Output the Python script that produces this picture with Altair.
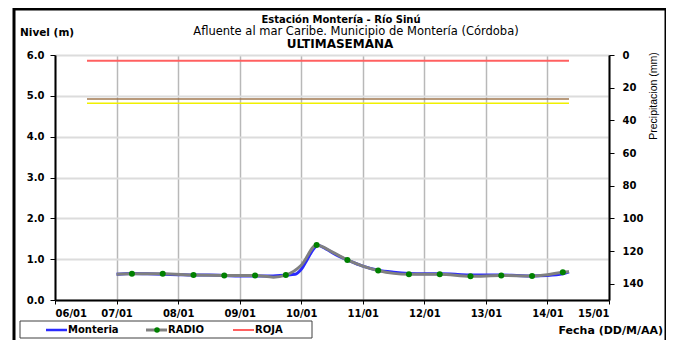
import altair as alt
import pandas as pd

# ---------------- data ----------------
x_labels = ["06/01", "07/01", "08/01", "09/01", "10/01", "11/01", "12/01", "13/01", "14/01", "15/01"]

# Monteria level (days after 06/01, metres)
mont_day = [1.0, 1.25, 1.5, 1.75, 2.0, 2.25, 2.5, 2.75, 3.0, 3.25, 3.5, 3.75, 3.9, 4.0, 4.1, 4.2, 4.27,
            4.4, 4.6, 4.75, 5.0, 5.25, 5.5, 5.75, 6.0, 6.25, 6.5, 6.75, 7.0, 7.25, 7.5, 7.75, 8.0, 8.25, 8.35]
mont_val = [0.63, 0.65, 0.64, 0.63, 0.62, 0.61, 0.61, 0.60, 0.59, 0.59, 0.59, 0.61, 0.63, 0.75, 1.0, 1.25, 1.34,
            1.25, 1.08, 0.98, 0.83, 0.73, 0.68, 0.65, 0.64, 0.64, 0.63, 0.61, 0.61, 0.61, 0.60, 0.59, 0.60, 0.64, 0.69]

# RADIO level line
radio_line_day = [1.0, 1.25, 1.75, 2.25, 2.75, 3.25, 3.55, 3.75, 4.0, 4.25, 4.5, 4.75, 5.0, 5.25,
                  5.75, 6.25, 6.75, 7.25, 7.75, 8.0, 8.25, 8.35]
radio_line_val = [0.63, 0.64, 0.64, 0.61, 0.60, 0.60, 0.56, 0.61, 0.85, 1.35, 1.18, 0.98, 0.83, 0.72,
                  0.63, 0.63, 0.58, 0.60, 0.59, 0.62, 0.68, 0.69]

# RADIO markers
radio_pt_day = [1.25, 1.75, 2.25, 2.75, 3.25, 3.75, 4.25, 4.75, 5.25, 5.75, 6.25, 6.75, 7.25, 7.75, 8.25]
radio_pt_val = [0.64, 0.64, 0.61, 0.60, 0.60, 0.61, 1.35, 0.98, 0.72, 0.63, 0.63, 0.58, 0.60, 0.59, 0.68]

# Threshold lines
thr_names = ["ROJA", "NARANJA", "AMARILLA"]
thr_vals = [5.86, 4.92, 4.82]
thr_colors = ["#ff6060", "#a07850", "#f0f000"]
thr_widths = [2.0, 1.5, 1.5]
thr_start = 0.52
thr_end = 8.35

precip_ticks = [0, 20, 40, 60, 80, 100, 120, 140]

FONT = "DejaVu Sans"
FONT2 = "Liberation Sans"
W, H = 554, 245

mont_df = pd.DataFrame({"day": mont_day, "nivel": mont_val})
rline_df = pd.DataFrame({"day": radio_line_day, "nivel": radio_line_val})
rpt_df = pd.DataFrame({"day": radio_pt_day, "nivel": radio_pt_val})
thr_df = pd.DataFrame({"name": thr_names, "nivel": thr_vals, "color": thr_colors, "w": thr_widths,
                       "x1": [thr_start] * 3, "x2": [thr_end] * 3})
one = pd.DataFrame({"a": [0]})

label_expr = "[" + ",".join("'%s'" % l for l in x_labels) + "][round(datum.value)]"

xscale = alt.Scale(domain=[0, 9], nice=False, zero=False)
yscale = alt.Scale(domain=[0, 6], nice=False)

xaxis = alt.Axis(values=list(range(10)), labelExpr=label_expr, title=None, grid=True,
                 gridColor="#b8b8b8", gridWidth=1.5, domainColor="black", domainWidth=2,
                 tickColor="black", tickSize=4, labelFont=FONT, labelFontSize=10,
                 labelFontWeight="bold", labelColor="black", labelPadding=4)
yaxis = alt.Axis(values=[0, 1, 2, 3, 4, 5, 6], format=".1f", title=None, grid=True,
                 gridColor="#dcdcdc", gridWidth=2, domainColor="black", domainWidth=2,
                 tickColor="black", tickSize=5, labelFont=FONT, labelFontSize=10,
                 labelFontWeight="bold", labelColor="black", labelPadding=6)

frame = alt.Chart(one).mark_rect(fill=None, stroke="black", strokeWidth=3).encode(
    x=alt.value(-41), x2=alt.value(611), y=alt.value(-46), y2=alt.value(320))

grid_layer = alt.Chart(rpt_df).mark_point(opacity=0).encode(
    x=alt.X("day:Q", scale=xscale, axis=xaxis),
    y=alt.Y("nivel:Q", scale=yscale, axis=yaxis))

thr = alt.Chart(thr_df).mark_rule().encode(
    x=alt.X("x1:Q", scale=xscale), x2="x2:Q",
    y=alt.Y("nivel:Q", scale=yscale),
    color=alt.Color("color:N", scale=None),
    strokeWidth=alt.StrokeWidth("w:Q", scale=None))

mont = alt.Chart(mont_df).mark_line(color="#2a2aff", strokeWidth=3, interpolate="monotone").encode(
    x=alt.X("day:Q", scale=xscale), y=alt.Y("nivel:Q", scale=yscale))

rline = alt.Chart(rline_df).mark_line(color="#808080", strokeWidth=3, interpolate="monotone").encode(
    x=alt.X("day:Q", scale=xscale), y=alt.Y("nivel:Q", scale=yscale))

rpts = alt.Chart(rpt_df).mark_circle(color="#008000", size=36, opacity=1).encode(
    x=alt.X("day:Q", scale=xscale), y=alt.Y("nivel:Q", scale=yscale))

def txt(s, x, y, size=10, weight="bold", align="center", angle=0, font=FONT):
    return alt.Chart(one).mark_text(text=s, font=font, fontSize=size, fontWeight=weight,
                                    align=align, baseline="middle", angle=angle, color="black").encode(
        x=alt.value(x), y=alt.value(y))

titles = (txt("Estación Montería - Río Sinú", 341 - 55, 20 - 55)
          + txt("Afluente al mar Caribe. Municipio de Montería (Córdoba)", 356 - 55, 32 - 55,
                size=11.5, weight="normal")
          + txt("ULTIMASEMANA", 340 - 55, 44 - 55, size=12)
          + txt("Nivel (m)", 20 - 55, 33 - 55, size=10.5, align="left")
          + txt("Precipitacion (mm)", 654 - 55, 96 - 55, size=10.5, weight="normal", angle=270, font=FONT2)
          + txt("Fecha (DD/M/AA)", 663 - 55, 331 - 55, size=11, align="right"))

# legend box (bottom-left)
LY = 330 - 55
leg_box = alt.Chart(one).mark_rect(fill="white", stroke="#404040", strokeWidth=1).encode(
    x=alt.value(20 - 55), x2=alt.value(312 - 55), y=alt.value(321 - 55), y2=alt.value(338 - 55))
def leg_line(x1, x2, color, w):
    return alt.Chart(one).mark_rule(color=color, strokeWidth=w).encode(
        x=alt.value(x1 - 55), x2=alt.value(x2 - 55), y=alt.value(LY))
legend = (leg_box
          + leg_line(46, 67, "#2a2aff", 2.5) + txt("Monteria", 68 - 55, LY, align="left")
          + leg_line(146, 167, "#808080", 3)
          + alt.Chart(one).mark_circle(color="#008000", size=30, opacity=1).encode(
              x=alt.value(157 - 55), y=alt.value(LY))
          + txt("RADIO", 168 - 55, LY, align="left")
          + leg_line(233, 254, "#ff6060", 2) + txt("ROJA", 255 - 55, LY, align="left"))

main = alt.layer(frame, grid_layer, thr, mont, rline, rpts, titles, legend)

precip = alt.Chart(pd.DataFrame({"p": [0]})).mark_point(opacity=0).encode(
    x=alt.value(0),
    y=alt.Y("p:Q", scale=alt.Scale(domain=[0, 150], reverse=True, nice=False),
            axis=alt.Axis(orient="right", values=precip_ticks, title=None, grid=False,
                          domainColor="black", domainWidth=2, tickColor="black", tickSize=5,
                          labelFont=FONT, labelFontSize=10, labelFontWeight="bold",
                          labelColor="black", labelPadding=8)))

chart = alt.layer(main, precip).resolve_scale(
    y="independent"
).properties(
    width=W, height=H,
    autosize=alt.AutoSizeParams(type="none"),
    padding={"left": 47, "top": 47, "right": 57, "bottom": 40},
).configure_view(strokeWidth=0).configure(background="white")

chart.save("out.html", embed_options={"renderer": "svg", "actions": False})
